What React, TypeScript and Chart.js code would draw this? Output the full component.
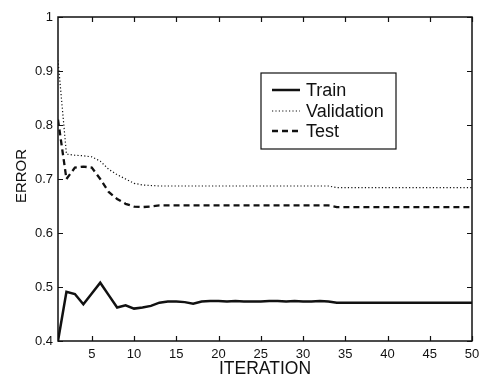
import React, { useEffect, useRef } from 'react';
import { Chart, registerables } from 'chart.js';

Chart.register(...registerables);

const iterations = [
  1, 2, 3, 4, 5, 6, 7, 8, 9, 10,
  11, 12, 13, 14, 15, 16, 17, 18, 19, 20,
  21, 22, 23, 24, 25, 26, 27, 28, 29, 30,
  31, 32, 33, 34, 35, 36, 37, 38, 39, 40,
  41, 42, 43, 44, 45, 46, 47, 48, 49, 50,
];

const trainError = [
  0.400, 0.491, 0.487, 0.468, 0.488, 0.508, 0.485, 0.462, 0.466, 0.460,
  0.462, 0.465, 0.471, 0.473, 0.473, 0.472, 0.469, 0.473, 0.474, 0.474,
  0.473, 0.474, 0.473, 0.473, 0.473, 0.474, 0.474, 0.473, 0.474, 0.473,
  0.473, 0.474, 0.473, 0.471, 0.471, 0.471, 0.471, 0.471, 0.471, 0.471,
  0.471, 0.471, 0.471, 0.471, 0.471, 0.471, 0.471, 0.471, 0.471, 0.471,
];

const validationError = [
  0.920, 0.746, 0.744, 0.743, 0.741, 0.733, 0.718, 0.708, 0.700, 0.692,
  0.689, 0.688, 0.687, 0.687, 0.687, 0.687, 0.687, 0.687, 0.687, 0.687,
  0.687, 0.687, 0.687, 0.687, 0.687, 0.687, 0.687, 0.687, 0.687, 0.687,
  0.687, 0.687, 0.687, 0.684, 0.684, 0.684, 0.684, 0.684, 0.684, 0.684,
  0.684, 0.684, 0.684, 0.684, 0.684, 0.684, 0.684, 0.684, 0.684, 0.684,
];

const testError = [
  0.810, 0.700, 0.721, 0.723, 0.721, 0.700, 0.676, 0.663, 0.654, 0.649,
  0.648, 0.649, 0.651, 0.651, 0.651, 0.651, 0.651, 0.651, 0.651, 0.651,
  0.651, 0.651, 0.651, 0.651, 0.651, 0.651, 0.651, 0.651, 0.651, 0.651,
  0.651, 0.651, 0.651, 0.648, 0.648, 0.648, 0.648, 0.648, 0.648, 0.648,
  0.648, 0.648, 0.648, 0.648, 0.648, 0.648, 0.648, 0.648, 0.648, 0.648,
];

const seriesLabels = ['Train', 'Validation', 'Test'];
const xTickValues = [5, 10, 15, 20, 25, 30, 35, 40, 45, 50];
const yTickValues = [0.4, 0.5, 0.6, 0.7, 0.8, 0.9, 1];
const xAxisTitle = 'ITERATION';
const yAxisTitle = 'ERROR';

const INK = '#111111';
const FONT = '"Liberation Sans", Arial, Helvetica, sans-serif';
const lineStyles = [
  { width: 2.5, dash: [] as number[] },
  { width: 1.2, dash: [1.2, 2.2] },
  { width: 2.3, dash: [6, 4] },
];

const framePlugin = {
  id: 'frameAndLegend',
  afterDraw(chart: any) {
    const { ctx, chartArea: a, scales } = chart;
    const xs = scales.x;
    const ys = scales.y;
    ctx.save();
    // frame
    ctx.strokeStyle = INK;
    ctx.lineWidth = 1.5;
    ctx.setLineDash([]);
    ctx.strokeRect(a.left, a.top, a.right - a.left, a.bottom - a.top);
    // inward ticks on all sides
    const tl = 5;
    ctx.lineWidth = 1.2;
    ctx.beginPath();
    xTickValues.forEach((v) => {
      const px = Math.round(xs.getPixelForValue(v)) + 0.5;
      ctx.moveTo(px, a.bottom);
      ctx.lineTo(px, a.bottom - tl);
      ctx.moveTo(px, a.top);
      ctx.lineTo(px, a.top + tl);
    });
    yTickValues.forEach((v) => {
      const py = Math.round(ys.getPixelForValue(v)) + 0.5;
      ctx.moveTo(a.left, py);
      ctx.lineTo(a.left + tl, py);
      ctx.moveTo(a.right, py);
      ctx.lineTo(a.right - tl, py);
    });
    ctx.stroke();

    // axis titles
    ctx.fillStyle = INK;
    ctx.textAlign = 'center';
    ctx.textBaseline = 'middle';
    ctx.font = `17.5px ${FONT}`;
    ctx.fillText(xAxisTitle, (a.left + a.right) / 2, a.bottom + 28);
    ctx.save();
    ctx.translate(22, (a.top + a.bottom) / 2 - 3);
    ctx.rotate(-Math.PI / 2);
    ctx.font = `15px ${FONT}`;
    ctx.fillText(yAxisTitle, 0, 0);
    ctx.restore();

    // legend
    const bx = a.left + 203;
    const by = a.top + 56;
    const bw = 135;
    const bh = 76;
    ctx.fillStyle = '#ffffff';
    ctx.fillRect(bx, by, bw, bh);
    ctx.strokeStyle = INK;
    ctx.lineWidth = 1.2;
    ctx.strokeRect(bx, by, bw, bh);
    const rows = [17, 38, 58];
    seriesLabels.forEach((label, i) => {
      const yy = by + rows[i];
      ctx.strokeStyle = INK;
      ctx.lineWidth = lineStyles[i].width;
      ctx.setLineDash(lineStyles[i].dash);
      ctx.beginPath();
      ctx.moveTo(bx + 11, yy);
      ctx.lineTo(bx + 39, yy);
      ctx.stroke();
      ctx.setLineDash([]);
      ctx.fillStyle = INK;
      ctx.textAlign = 'left';
      ctx.textBaseline = 'middle';
      ctx.font = `18px ${FONT}`;
      ctx.fillText(label, bx + 45, yy + 1);
    });
    ctx.restore();
  },
};

export default function App() {
  const canvasRef = useRef<HTMLCanvasElement | null>(null);

  useEffect(() => {
    document.body.style.margin = '0';
    const canvas = canvasRef.current;
    if (!canvas) return;
    const seriesData = [trainError, validationError, testError];
    const chart = new Chart(canvas, {
      type: 'line',
      data: {
        labels: iterations,
        datasets: seriesLabels.map((label, i) => ({
          label,
          data: iterations.map((x, j) => ({ x, y: seriesData[i][j] })),
          borderColor: INK,
          backgroundColor: INK,
          borderWidth: lineStyles[i].width,
          borderDash: lineStyles[i].dash,
          pointRadius: 0,
          tension: 0,
          fill: false,
        })),
      },
      options: {
        animation: false,
        responsive: true,
        maintainAspectRatio: false,
        layout: { padding: { top: 17, right: 19, left: 0, bottom: 0 } },
        plugins: {
          legend: { display: false },
          tooltip: { enabled: false },
        },
        scales: {
          x: {
            type: 'linear',
            min: 1,
            max: 50,
            grid: { display: false, drawTicks: false },
            border: { display: false },
            afterBuildTicks: (scale: any) => {
              scale.ticks = xTickValues.map((value) => ({ value }));
            },
            afterFit: (scale: any) => {
              scale.height = 37;
            },
            ticks: {
              color: INK,
              padding: 6,
              maxRotation: 0,
              autoSkip: false,
              font: { family: FONT, size: 13 },
              callback: (v: any) => String(v),
            },
          },
          y: {
            type: 'linear',
            min: 0.4,
            max: 1,
            grid: { display: false, drawTicks: false },
            border: { display: false },
            afterBuildTicks: (scale: any) => {
              scale.ticks = yTickValues.map((value) => ({ value }));
            },
            afterFit: (scale: any) => {
              scale.width = 58;
            },
            ticks: {
              color: INK,
              padding: 5,
              autoSkip: false,
              font: { family: FONT, size: 13 },
              callback: (v: any) => (Number(v) === 1 ? '1' : Number(v).toFixed(1)),
            },
          },
        },
      },
      plugins: [framePlugin],
    });
    return () => chart.destroy();
  }, []);

  return (
    <div style={{ position: 'relative', width: 491, height: 378, background: '#ffffff' }}>
      <canvas ref={canvasRef} />
    </div>
  );
}
